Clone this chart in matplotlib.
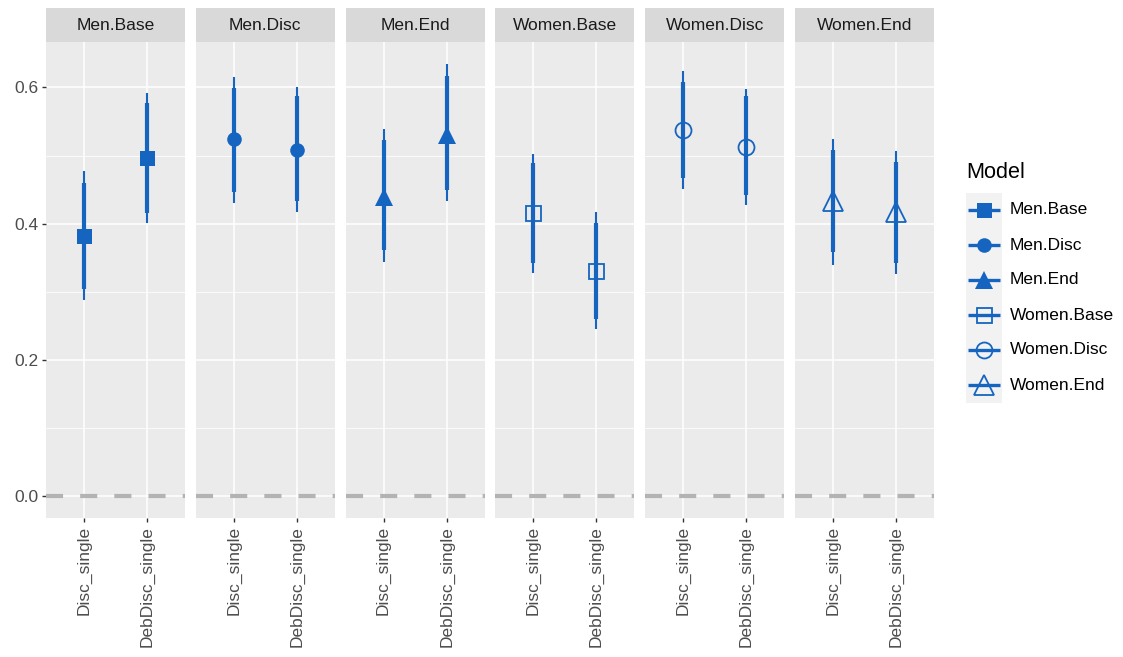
import matplotlib
matplotlib.use('Agg')
import matplotlib.pyplot as plt
from matplotlib.patches import Rectangle

plt.rcParams['font.family'] = ['Liberation Sans', 'DejaVu Sans']
plt.rcParams['lines.scale_dashes'] = False

# ---------------- data ----------------
models = ['Men.Base', 'Men.Disc', 'Men.End', 'Women.Base', 'Women.Disc', 'Women.End']
methods = ['Disc_single', 'DebDisc_single']
markers = ['s', 'o', '^', 's', 'o', '^']
filled = [True, True, True, False, False, False]

estimate = [[0.382, 0.496], [0.524, 0.509], [0.440, 0.530],
            [0.416, 0.331], [0.537, 0.513], [0.433, 0.418]]
inner_lo = [[0.304, 0.416], [0.447, 0.433], [0.362, 0.450],
            [0.343, 0.260], [0.467, 0.442], [0.358, 0.343]]
inner_hi = [[0.460, 0.577], [0.599, 0.588], [0.523, 0.617],
            [0.489, 0.401], [0.608, 0.588], [0.508, 0.491]]
outer_lo = [[0.288, 0.401], [0.431, 0.418], [0.344, 0.433],
            [0.328, 0.245], [0.451, 0.428], [0.340, 0.327]]
outer_hi = [[0.477, 0.592], [0.615, 0.601], [0.539, 0.635],
            [0.503, 0.418], [0.624, 0.598], [0.525, 0.507]]
y_major = [0.0, 0.2, 0.4, 0.6]
y_minor = [0.1, 0.3, 0.5]
ref_line = 0.0

# ---------------- style ----------------
W, H = 1123, 657
COL = '#1565c0'
PANEL_BG = '#ebebeb'
STRIP_BG = '#d9d9d9'
TXT = '#4d4d4d'
FS = 12.5

fig = plt.figure(figsize=(W / 100, H / 100), dpi=100)
fig.patch.set_facecolor('white')

left0, pw, step = 46, 139, 149.8
ptop, pbot = 42, 518
strip_h = 34

all_lo = min(min(min(r) for r in outer_lo), ref_line)
all_hi = max(max(r) for r in outer_hi)
pad = 0.05 * (all_hi - all_lo)
ylim = (all_lo - pad, all_hi + pad)

msize = {'s': 10.8, 'o': 10.5, '^': 12.5}
msize_open = {'s': 10.8, 'o': 11.5, '^': 14}

for i, model in enumerate(models):
    x0 = left0 + i * step
    ax = fig.add_axes([x0 / W, (H - pbot) / H, pw / W, (pbot - ptop) / H])
    ax.set_facecolor(PANEL_BG)
    for s in ax.spines.values():
        s.set_visible(False)
    ax.set_xlim(0.4, 2.6)
    ax.set_ylim(*ylim)
    xs = list(range(1, len(methods) + 1))
    ax.set_xticks(xs)
    ax.set_xticklabels(methods, rotation=90, fontsize=FS, color=TXT)
    ax.set_yticks(y_major)
    ax.set_yticks(y_minor, minor=True)
    ax.grid(True, which='major', color='white', lw=1.1, zorder=0)
    ax.grid(True, which='minor', axis='y', color='white', lw=0.55, zorder=0)
    ax.set_axisbelow(True)
    ax.tick_params(axis='x', length=3, width=1.0, color='#333333', pad=2.5)
    ax.tick_params(axis='y', which='minor', length=0)
    if i == 0:
        ax.set_yticklabels(['%.1f' % v for v in y_major], fontsize=FS, color=TXT)
        ax.tick_params(axis='y', which='major', length=3, width=1.0,
                       color='#333333', pad=2.5)
    else:
        ax.tick_params(axis='y', which='major', length=0, labelleft=False)

    ax.axhline(ref_line, color='#b3b3b3', lw=3.0, ls=(0, (12.3, 12.3)),
               solid_capstyle='butt', dash_capstyle='butt', zorder=1.5)

    for j, x in enumerate(xs):
        ax.plot([x, x], [outer_lo[i][j], outer_hi[i][j]], color=COL, lw=1.5,
                solid_capstyle='butt', zorder=3)
        ax.plot([x, x], [inner_lo[i][j], inner_hi[i][j]], color=COL, lw=3.0,
                solid_capstyle='butt', zorder=3)
        m = markers[i]
        if filled[i]:
            ax.plot([x], [estimate[i][j]], marker=m, ms=msize[m], color=COL,
                    mec=COL, mfc=COL, mew=0, ls='none', zorder=4)
        else:
            ax.plot([x], [estimate[i][j]], marker=m, ms=msize_open[m], color=COL,
                    mec=COL, mfc='none', mew=1.3, ls='none', zorder=4)

    # strip
    sax = fig.add_axes([x0 / W, (H - ptop) / H, pw / W, strip_h / H])
    sax.set_facecolor(STRIP_BG)
    sax.set_xticks([])
    sax.set_yticks([])
    for s in sax.spines.values():
        s.set_visible(False)
    sax.text(0.5, 0.5, model, ha='center', va='center', fontsize=FS,
             color='#1a1a1a', transform=sax.transAxes)

# ---------------- legend ----------------
lax = fig.add_axes([0, 0, 1, 1])
lax.set_xlim(0, W)
lax.set_ylim(H, 0)
lax.axis('off')
lax.text(966, 172, 'Model', fontsize=15.6, ha='left', va='center', color='black')
key_x0, key_x1 = 966, 1002
y_first, y_step = 210, 35
for k, model in enumerate(models):
    yc = y_first + k * y_step
    lax.add_patch(Rectangle((key_x0, yc - y_step / 2), key_x1 - key_x0, y_step,
                            facecolor='#f2f2f2', edgecolor='none', zorder=1))
    lax.plot([key_x0 + 2, key_x1 - 2], [yc, yc], color=COL, lw=2.4,
             solid_capstyle='butt', zorder=2)
    m = markers[k]
    if filled[k]:
        lax.plot([(key_x0 + key_x1) / 2], [yc], marker=m, ms=msize[m], color=COL,
                 mew=0, ls='none', zorder=3)
    else:
        lax.plot([(key_x0 + key_x1) / 2], [yc], marker=m, ms=msize_open[m],
                 mec=COL, mfc='none', mew=1.3, ls='none', zorder=3)
    lax.text(1010, yc, model, fontsize=FS, ha='left', va='center', color='black')

fig.savefig('out.png', dpi=100)
